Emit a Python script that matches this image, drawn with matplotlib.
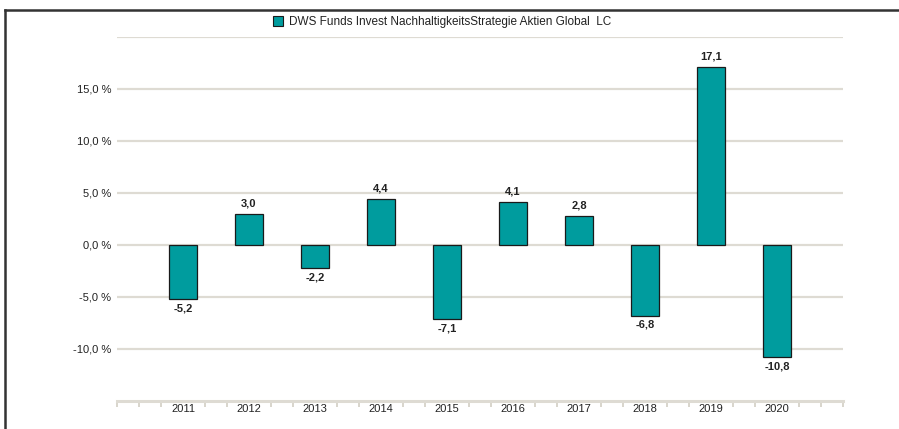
import matplotlib
matplotlib.use("Agg")
import matplotlib.pyplot as plt
import numpy as np
from matplotlib.lines import Line2D
from matplotlib.patches import Patch

plt.rcParams['font.family'] = ['Liberation Sans', 'DejaVu Sans']

# data
years = ['2011', '2012', '2013', '2014', '2015', '2016', '2017', '2018', '2019', '2020']
returns = [-5.2, 3.0, -2.2, 4.4, -7.1, 4.1, 2.8, -6.8, 17.1, -10.8]
fund_name = 'DWS Funds Invest NachhaltigkeitsStrategie Aktien Global  LC'
yticks = [-10, -5, 0, 5, 10, 15]

bar_color = '#009c9e'
grid_color = '#dedbd3'
text_color = '#222222'

fig = plt.figure(figsize=(8.99, 4.29), dpi=100)
ax = fig.add_axes([117 / 899, 1 - 401 / 429, (843 - 117) / 899, (401 - 37) / 429])

x = np.arange(len(years))
ax.bar(x, returns, width=0.41, color=bar_color, edgecolor='#1a1a1a', linewidth=0.9, zorder=3)

for xi, v in zip(x, returns):
    lbl = '{:.1f}'.format(v).replace('.', ',')
    if v >= 0:
        ax.annotate(lbl, (xi, v), xytext=(0, 4), textcoords='offset points',
                    ha='center', va='bottom', fontsize=8, fontweight='bold', color=text_color)
    else:
        ax.annotate(lbl, (xi, v), xytext=(0, -3), textcoords='offset points',
                    ha='center', va='top', fontsize=8, fontweight='bold', color=text_color)

ax.set_xlim(-1, 10)
ax.set_ylim(-15, 20)

# horizontal grid
for g in [-10, -5, 0, 5, 10, 15, 20]:
    ax.axhline(g, color=grid_color, linewidth=1.6, zorder=1)

ax.set_yticks(yticks)
ax.set_yticklabels(['{:.1f} %'.format(t).replace('.', ',') for t in yticks],
                   fontsize=8, color=text_color)
ax.tick_params(axis='y', length=0, pad=4)

ax.set_xticks(x)
ax.set_xticklabels(years, fontsize=8, color=text_color)
ax.set_xticks(np.arange(-1, 10.01, 1 / 3), minor=True)
ax.tick_params(axis='x', which='major', length=0, pad=2)
ax.tick_params(axis='x', which='minor', length=4, width=1.3, color='#d6d2c8', direction='out')

for s in ['top', 'right', 'left']:
    ax.spines[s].set_visible(False)
ax.spines['bottom'].set_color(grid_color)
ax.spines['bottom'].set_linewidth(2.2)

# legend
handle = Patch(facecolor=bar_color, edgecolor='#1a1a1a', linewidth=0.8)
fig.legend([handle], [fund_name], loc='center', bbox_to_anchor=(442 / 899, 1 - 22 / 429),
           frameon=False, fontsize=8.5, handlelength=0.9, handleheight=0.9, handletextpad=0.5,
           labelcolor=text_color)

# figure border (top and left only)
fig.add_artist(Line2D([5 / 899, 1], [1 - 10 / 429, 1 - 10 / 429], transform=fig.transFigure,
                      color='#333333', linewidth=1.8))
fig.add_artist(Line2D([5 / 899, 5 / 899], [0, 1 - 10 / 429], transform=fig.transFigure,
                      color='#333333', linewidth=1.8))

fig.savefig('out.png', dpi=100)
